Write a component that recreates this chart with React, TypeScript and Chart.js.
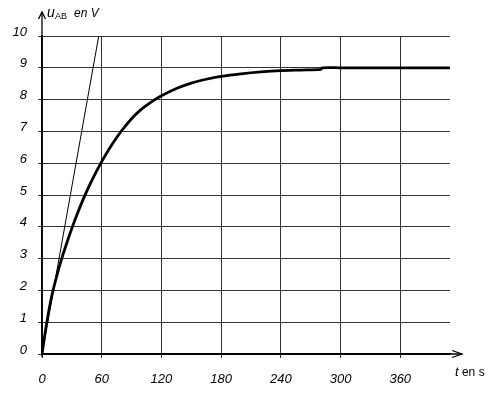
import React, { useEffect, useRef } from "react";
import { Chart, registerables } from "chart.js";

Chart.register(...registerables);

// Charging curve u_AB(t)
const times = [0, 5, 10, 15, 20, 25, 30, 35, 40, 45, 50, 55, 60, 70, 80, 90, 100, 110, 120, 135, 150, 165, 180, 200, 220, 240, 260, 280, 282, 300, 360, 410];
const voltages = [0, 1.02, 1.85, 2.47, 3.02, 3.5, 3.95, 4.37, 4.76, 5.12, 5.45, 5.76, 6.05, 6.57, 7.02, 7.4, 7.7, 7.93, 8.12, 8.35, 8.52, 8.64, 8.73, 8.81, 8.87, 8.91, 8.93, 8.95, 9.0, 9.0, 9.0, 9.0];

// Tangent at the origin
const tangentTimes = [0, 57];
const tangentValues = [0, 10];

const xTicks = [0, 60, 120, 180, 240, 300, 360];
const yTicks = [0, 1, 2, 3, 4, 5, 6, 7, 8, 9, 10];

const FONT = "'Liberation Sans', Arial, sans-serif";

const decorPlugin = {
  id: "decor",
  afterDraw(chart: any) {
    const ctx = chart.ctx;
    const { left, bottom } = chart.chartArea;
    ctx.save();
    ctx.strokeStyle = "#000";
    ctx.lineWidth = 1.3;
    // y axis with arrow
    ctx.beginPath();
    ctx.moveTo(left, bottom + 3);
    ctx.lineTo(left, 12);
    ctx.stroke();
    ctx.beginPath();
    ctx.moveTo(left - 3.5, 19);
    ctx.lineTo(left, 12);
    ctx.lineTo(left + 3.5, 19);
    ctx.stroke();
    // x axis with arrow
    ctx.beginPath();
    ctx.moveTo(left, bottom);
    ctx.lineTo(462, bottom);
    ctx.stroke();
    ctx.beginPath();
    ctx.moveTo(452, bottom - 3.5);
    ctx.lineTo(462, bottom);
    ctx.lineTo(452, bottom + 3.5);
    ctx.stroke();

    // axis titles
    ctx.fillStyle = "#000";
    ctx.textBaseline = "alphabetic";
    ctx.textAlign = "left";
    ctx.font = `italic 14px ${FONT}`;
    ctx.fillText("u", 47, 17);
    ctx.font = `9px ${FONT}`;
    ctx.fillText("AB", 55, 19);
    ctx.font = `italic 12px ${FONT}`;
    ctx.fillText("en V", 74, 17);

    ctx.font = `italic 13px ${FONT}`;
    ctx.fillText("t", 455, 376);
    const tw = ctx.measureText("t").width;
    ctx.font = `12px ${FONT}`;
    ctx.fillText(" en s", 455 + tw, 376);
    ctx.restore();
  },
};

export default function App() {
  const canvasRef = useRef<HTMLCanvasElement | null>(null);

  useEffect(() => {
    document.body.style.margin = "0";
    const canvas = canvasRef.current;
    if (!canvas) return;
    const curve = times.map((t, i) => ({ x: t, y: voltages[i] }));
    const tangent = tangentTimes.map((t, i) => ({ x: t, y: tangentValues[i] }));
    const chart = new Chart(canvas, {
      type: "line",
      data: {
        datasets: [
          {
            data: curve,
            borderColor: "#000",
            borderWidth: 2.8,
            pointRadius: 0,
            tension: 0.3,
            fill: false,
          },
          {
            data: tangent,
            borderColor: "#000",
            borderWidth: 1,
            pointRadius: 0,
            tension: 0,
            fill: false,
          },
        ],
      },
      options: {
        animation: false,
        responsive: false,
        devicePixelRatio: 1,
        layout: { padding: { top: 36, right: 47, left: 0, bottom: 0 } },
        plugins: {
          legend: { display: false },
          tooltip: { enabled: false },
          title: { display: false },
        },
        scales: {
          x: {
            type: "linear",
            min: 0,
            max: 410,
            afterBuildTicks: (scale: any) => {
              scale.ticks = xTicks.map((v) => ({ value: v }));
            },
            afterFit: (scale: any) => {
              scale.height = 39;
            },
            grid: {
              color: "#333",
              lineWidth: 1,
              drawTicks: true,
              tickLength: 4,
              tickColor: "#333",
            },
            border: { display: true, color: "#000", width: 1.3 },
            ticks: {
              color: "#000",
              padding: 14,
              maxRotation: 0,
              font: { family: FONT, size: 13, style: "italic" },
            },
          },
          y: {
            type: "linear",
            min: 0,
            max: 10,
            afterBuildTicks: (scale: any) => {
              scale.ticks = yTicks.map((v) => ({ value: v }));
            },
            afterFit: (scale: any) => {
              scale.width = 42;
            },
            grid: {
              color: "#333",
              lineWidth: 1,
              drawTicks: true,
              tickLength: 4,
              tickColor: "#333",
            },
            border: { display: true, color: "#000", width: 1.3 },
            ticks: {
              color: "#000",
              padding: 11,
              labelOffset: -4,
              font: { family: FONT, size: 13, style: "italic" },
            },
          },
        },
      },
      plugins: [decorPlugin],
    });
    return () => chart.destroy();
  }, []);

  return (
    <div style={{ position: "fixed", left: 0, top: 0, width: 497, height: 393, background: "#fff" }}>
      <canvas ref={canvasRef} width={497} height={393} style={{ width: 497, height: 393 }} />
    </div>
  );
}
